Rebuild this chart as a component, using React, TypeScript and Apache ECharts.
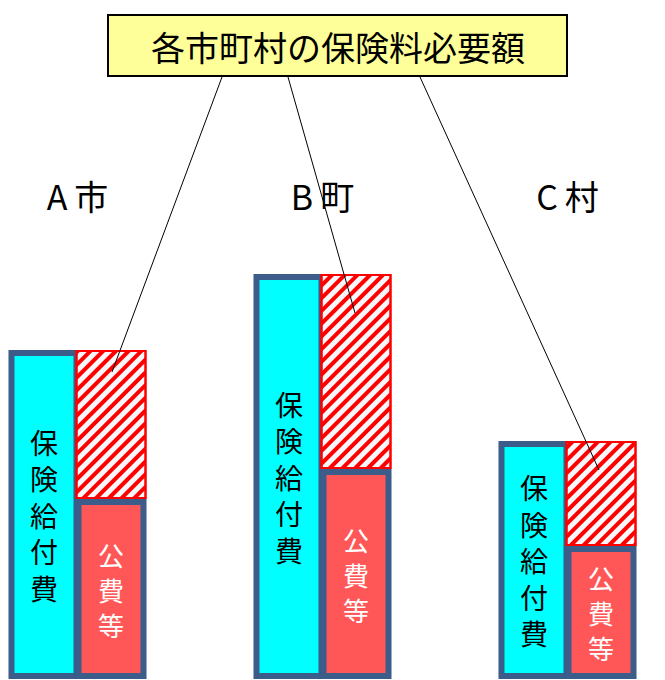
import React, { useEffect, useRef } from "react";
import * as echarts from "echarts";

const categories = ["A市", "B町", "C村"];
const benefitCost = [329, 405, 238]; // 保険給付費
const publicFunds = [180, 210, 133]; // 公費等
const premiumNeed = [149, 195, 105]; // 保険料必要額
const titleText = "各市町村の保険料必要額";

const FONT = '"Noto Sans CJK JP", "Noto Sans", sans-serif';
const OFF = 45; // inner chart is shifted left so the groups sit where the reference has them

export default function App() {
  const ref = useRef<HTMLDivElement>(null);
  useEffect(() => {
    if (!ref.current) return;
    const chart = echarts.init(ref.current, null, { renderer: "svg" });
    const border = "#3C5C8A";
    chart.setOption({
      animation: false,
      textStyle: { fontFamily: FONT },
      grid: { left: 0, right: 0, top: 220, bottom: 1 },
      xAxis: {
        type: "category",
        position: "top",
        data: categories,
        axisLine: { show: false },
        axisTick: { show: false },
        axisLabel: {
          margin: 8,
          formatter: (v: string) => `{a|${v[0]}}{b|${v.slice(1)}}`,
          rich: {
            a: { fontSize: 34, color: "#000", fontFamily: FONT, padding: [0, 7, 0, 0] },
            b: { fontSize: 34, color: "#000", fontFamily: FONT },
          },
        },
      },
      yAxis: { type: "value", min: 0, max: 459, show: false, splitLine: { show: false } },
      series: [
        {
          name: "保険給付費",
          type: "bar",
          data: benefitCost,
          barWidth: 71,
          barGap: "-5.6%",
          itemStyle: { color: "#00FFFF", borderColor: border, borderWidth: 6 },
          label: {
            show: true,
            position: "inside",
            formatter: "保\n険\n給\n付\n費",
            color: "#000",
            fontSize: 28,
            lineHeight: 36.5,
            fontFamily: FONT,
          },
          z: 2,
        },
        {
          name: "公費等",
          type: "bar",
          stack: "total",
          data: publicFunds,
          barWidth: 71,
          barGap: "-5.6%",
          itemStyle: { color: "#FF5757", borderColor: border, borderWidth: 6 },
          label: {
            show: true,
            position: "inside",
            formatter: "公\n費\n等",
            color: "#FFFFFF",
            fontSize: 26,
            lineHeight: 35,
            fontFamily: FONT,
          },
          z: 4,
        },
        {
          name: "保険料必要額",
          type: "bar",
          stack: "total",
          data: premiumNeed,
          barWidth: 71,
          barGap: "-5.6%",
          itemStyle: {
            color: "#F5F7FA",
            borderColor: "#FF0000",
            borderWidth: 2,
            decal: {
              symbol: "rect",
              symbolSize: 1,
              color: "#FF0000",
              dashArrayX: [1, 0],
              dashArrayY: [4, 4.5],
              rotation: -Math.PI / 4,
            },
          },
          z: 3,
        },
      ],
      graphic: [
        {
          type: "rect",
          z: 100,
          shape: { x: 108 + OFF, y: 15, width: 459, height: 61 },
          style: { fill: "#FFFF99", stroke: "#000", lineWidth: 2 },
        },
        {
          type: "text",
          z: 101,
          x: 338 + OFF,
          y: 46,
          style: {
            text: titleText,
            fontSize: 34,
            fontFamily: FONT,
            fill: "#000",
            align: "center",
            verticalAlign: "middle",
          },
        },
        { type: "line", z: 100, shape: { x1: 222 + OFF, y1: 77, x2: 112 + OFF, y2: 372 }, style: { stroke: "#000", lineWidth: 1 } },
        { type: "line", z: 100, shape: { x1: 288 + OFF, y1: 77, x2: 355 + OFF, y2: 313 }, style: { stroke: "#000", lineWidth: 1 } },
        { type: "line", z: 100, shape: { x1: 420 + OFF, y1: 77, x2: 599 + OFF, y2: 470 }, style: { stroke: "#000", lineWidth: 1 } },
      ],
    });
    return () => chart.dispose();
  }, []);
  return (
    <div
      style={{
        position: "absolute",
        left: 0,
        top: 0,
        width: 665,
        height: 680,
        overflow: "hidden",
        background: "#FFFFFF",
      }}
    >
      <div
        ref={ref}
        style={{ position: "absolute", left: -OFF, top: 0, width: 665 + OFF + 25, height: 680 }}
      />
    </div>
  );
}
